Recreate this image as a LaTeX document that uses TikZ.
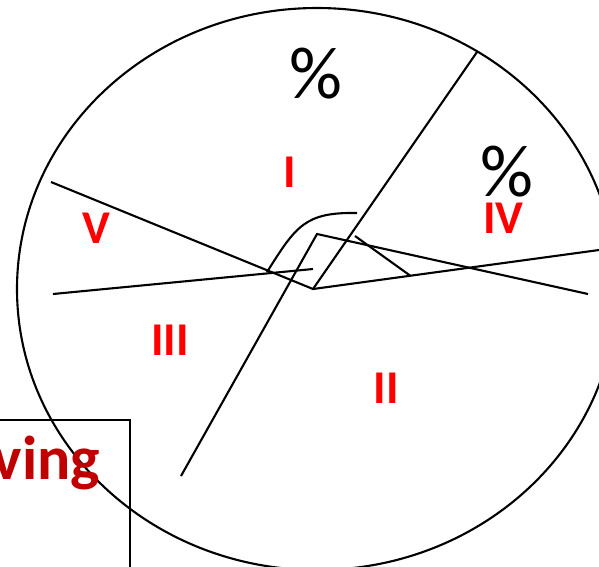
\documentclass[tikz,border=0pt]{standalone}
\usepackage{fontspec}
\setmainfont{Carlito}
\usetikzlibrary{positioning}
\definecolor{zonered}{HTML}{FF0000}
\definecolor{boxred}{HTML}{C00000}

\begin{document}
\begin{tikzpicture}[
  x=1pt,y=-1pt,
  line width=2.1pt,
  zone/.style={text=zonered,font=\fontsize{47}{47}\selectfont\bfseries,anchor=base,inner sep=0pt},
  pct/.style={font=\fontsize{74}{74}\selectfont,anchor=base,inner sep=0pt},
  cut/.style={black,line width=2.1pt}
]
\useasboundingbox (0,0) rectangle (599,566);
\clip (0,0) rectangle (599,566);

% outline and corner box
\draw (317,289) ellipse [x radius=300pt, y radius=281pt];
\draw (-5,420) -- (130,420) -- (130,575);
\node[anchor=base east,inner sep=0pt,text=boxred,font=\fontsize{62}{62}\selectfont\bfseries]
  (word) at (101,479) {ving};

% points of the section lines
\coordinate (tip)   at (313,289);
\coordinate (apex)  at (317,234);
\coordinate (lowA)  at (181,476);
\coordinate (endA)  at (588,294);
\coordinate (rimB)  at (477,52);
\coordinate (leftC) at (51,182);
\coordinate (rimC)  at (599,250);
\coordinate (leftD) at (53,294);
\coordinate (endD)  at (313,269);
\coordinate (bendS) at (267,272);
\coordinate (bendE) at (357,213);
\coordinate (tickS) at (355,236);
\coordinate (tickE) at (410,275.5);

\draw[cut] (lowA) -- (apex) -- (endA);
\draw[cut] (tip) -- (rimB);
\draw[cut] (leftC) -- (tip) -- (rimC);
\draw[cut] (leftD) -- (endD);
\draw[cut] (bendS) .. controls (296,226) and (305,212) .. (bendE);
\draw[cut] (tickS) -- (tickE);

% labels
\node[pct] (pctI) at (316,98) {\%};
\node[pct] (pctIV) at (507,196) {\%};
\node[zone] (zI) at (289.5,187) {I};
\node[zone] (zII) at (386.5,403) {II};
\node[zone] (zIII) at (170,355) {III};
\node[zone] (zIV) at (503.5,233) {IV};
\node[zone] (zV) at (96,243) {V};
\end{tikzpicture}
\end{document}
